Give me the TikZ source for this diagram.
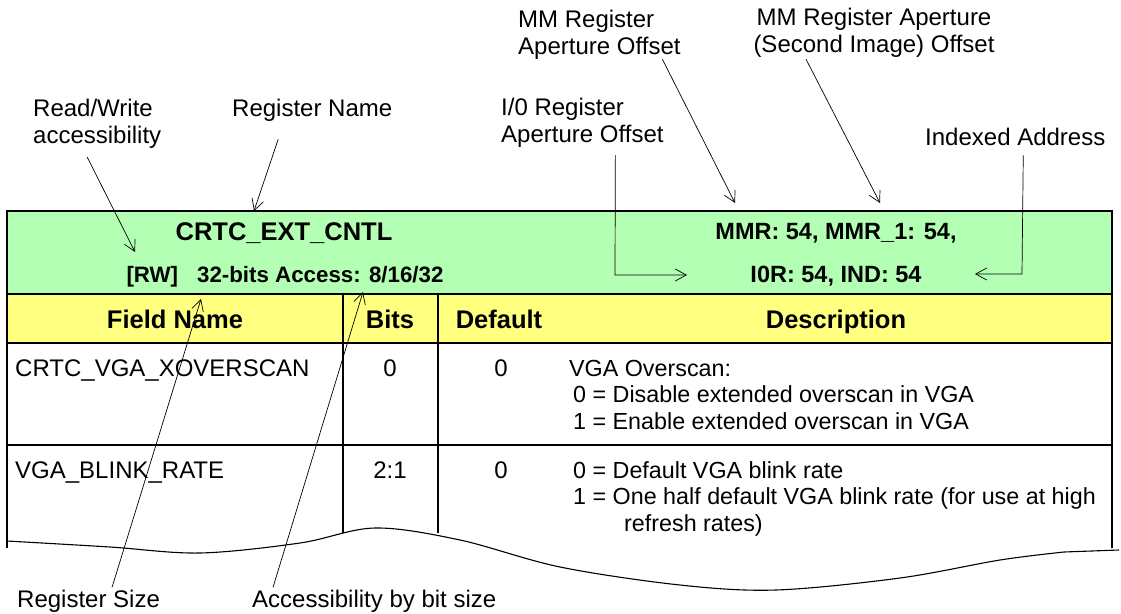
\documentclass[tikz,border=0pt]{standalone}
\usepackage{fontspec}
\setmainfont{Liberation Sans}
\usetikzlibrary{arrows.meta}

\definecolor{regGreen}{RGB}{179,255,179}
\definecolor{hdrYellow}{RGB}{255,255,128}

\begin{document}
\begin{tikzpicture}[
  x=1pt, y=-1pt,
  txt/.style={inner sep=0pt, font=\fontsize{24}{27}\selectfont},
  desc/.style={inner sep=0pt, align=left, font=\fontsize{23.3}{26.5}\selectfont},
  hdr/.style={inner sep=0pt, font=\fontsize{25.5}{29}\selectfont\bfseries},
  reg/.style={inner sep=0pt, font=\fontsize{23.5}{27}\selectfont\bfseries},
  note/.style={-{Straight Barb[length=11pt,width=12pt]}, line width=0.7pt},
  frame/.style={line width=2pt, draw=black},
  tear/.style={line width=1.1pt}
]
\useasboundingbox (0,0) rectangle (1121,613);

% Table grid, in pixel units (y grows downward).
\def\xl{7}
\def\xa{343}
\def\xb{438}
\def\xr{1112}
\def\yt{211}
\def\yh{294}
\def\yr{343}
\def\ys{445}
\def\yc{533}
\def\ye{548}

\fill[regGreen] (\xl,\yt) rectangle (\xr,\yh);
\fill[hdrYellow] (\xl,\yh) rectangle (\xr,\yr);

\draw[frame] (\xl,\ye) -- (\xl,\yt) -- (\xr,\yt) -- (\xr,\ye);
\foreach \y in {\yh,\yr,\ys}
  \draw[frame] (\xl,\y) -- (\xr,\y);
\foreach \x in {\xa,\xb}
  \draw[frame] (\x,\yh) -- (\x,\yc);

% Torn edge of the table.
\draw[tear] plot[smooth, tension=0.55] coordinates {(7,541) (110,547) (200,553)
  (300,543) (375,528) (460,540) (560,567) (680,585) (776,590) (900,578)
  (1000,560) (1064,552)} -- (1119,550);

% Register header.
\node[hdr, anchor=base] (regName) at (284,240) {CRTC\_EXT\_CNTL};
\node[reg, font=\fontsize{22.3}{27}\selectfont\bfseries, anchor=base] (regAccess) at (285,282)
  {[RW]\hspace{19pt}32-bits Access: 8/16/32};
\node[reg, anchor=base] (regMmr) at (836,239) {MMR: 54, MMR\_1: 54,};
\node[reg, anchor=base] (regIo) at (836,282) {I0R: 54, IND: 54};

% Column heads.
\node[hdr, anchor=base] (hField) at (175,328) {Field Name};
\node[hdr, anchor=base] (hBits) at (390,328) {Bits};
\node[hdr, anchor=base] (hDefault) at (499,328) {Default};
\node[hdr, anchor=base] (hDesc) at (836,328) {Description};

% Field rows (multi-line nodes sit on their last baseline).
\node[txt, anchor=base west] (fldA) at (15,376) {CRTC\_VGA\_XOVERSCAN};
\node[txt, anchor=base] (bitsA) at (390,376) {0};
\node[txt, anchor=base] (defA) at (501,376) {0};
\node[desc, anchor=base west] (descA) at (569,429)
  {VGA Overscan:\\\hspace*{4pt}0 = Disable extended overscan in VGA\\
   \hspace*{4pt}1 = Enable extended overscan in VGA};

\node[txt, anchor=base west] (fldB) at (15,478) {VGA\_BLINK\_RATE};
\node[txt, anchor=base] (bitsB) at (390,478) {2:1};
\node[txt, anchor=base] (defB) at (501,478) {0};
\node[desc, anchor=base west] (descB) at (569,531)
  {\hspace*{4pt}0 = Default VGA blink rate\\
   \hspace*{4pt}1 = One half default VGA blink rate (for use at high\\
   \hspace*{55pt}refresh rates)};

% Callout labels.
\node[txt, anchor=base west, align=left] (rwLbl) at (33,143) {Read/Write\\accessibility};
\node[txt, anchor=base west] (nameLbl) at (232,116) {Register Name};
\node[txt, anchor=base west, align=left] (ioLbl) at (501,142) {I/0 Register\\Aperture Offset};
\node[txt, anchor=base west, align=left] (mmLbl) at (518,54) {MM Register\\Aperture Offset};
\node[txt, anchor=base, align=center] (mmOneLbl) at (874,52)
  {MM Register Aperture\\(Second Image) Offset};
\node[txt, anchor=base west] (indLbl) at (925,145) {Indexed Address};
\node[txt, anchor=base west] (sizeLbl) at (17,607) {Register Size};
\node[txt, anchor=base west] (accLbl) at (252,607) {Accessibility by bit size};

% Arrow targets on the table.
\coordinate (rwTip) at (135,252);
\coordinate (nameTip) at (254,211);
\coordinate (ioBend) at (615,275);
\coordinate (ioTip) at (687,275);
\coordinate (mmTip) at (735,203);
\coordinate (mmOneTip) at (880,203);
\coordinate (indBend) at (1022,274);
\coordinate (indTip) at (975,274);
\coordinate (sizeTip) at (201,299);
\coordinate (accTip) at (363,292);

\draw[note] ([xshift=-10pt,yshift=-9pt]rwLbl.south) -- (rwTip);
\draw[note] ([xshift=-34pt,yshift=-18pt]nameLbl.south) -- (nameTip);
\draw[note] ([xshift=33pt,yshift=-8pt]ioLbl.south) -- (ioBend) -- (ioTip);
\draw[note] ([xshift=63pt,yshift=0pt]mmLbl.south) -- (mmTip);
\draw[note] ([xshift=-68pt,yshift=-2pt]mmOneLbl.south) -- (mmOneTip);
\draw[note] ([xshift=8pt,yshift=-10pt]indLbl.south) -- (indBend) -- (indTip);
\draw[note] ([xshift=95pt,yshift=2pt]sizeLbl.north west) -- (sizeTip);
\draw[note] ([xshift=21pt,yshift=2pt]accLbl.north west) -- (accTip);

\end{tikzpicture}
\end{document}
